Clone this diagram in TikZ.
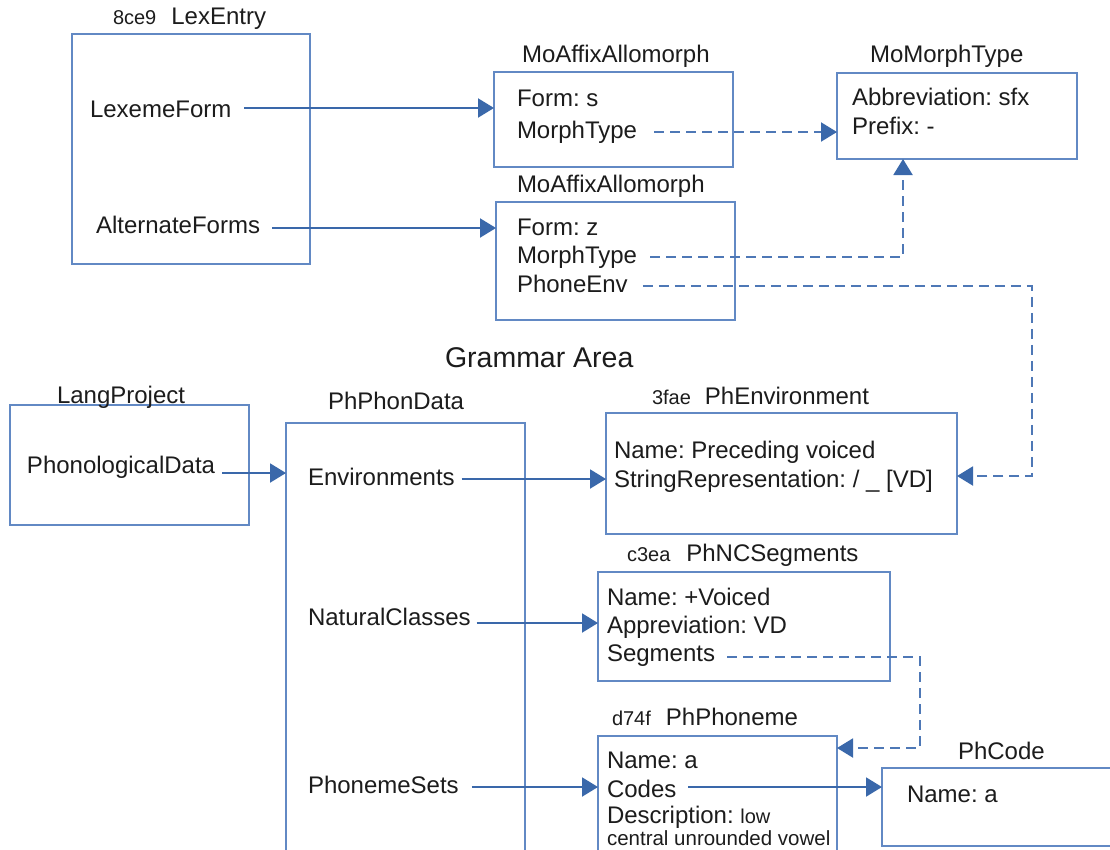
\documentclass[tikz,border=0pt]{standalone}
\usepackage{fontspec}
\setmainfont{Liberation Sans}
\usetikzlibrary{arrows.meta}

\definecolor{boxblue}{RGB}{98,137,196}
\definecolor{arrowblue}{RGB}{58,104,170}
\definecolor{dashblue}{RGB}{78,120,182}
\definecolor{ink}{RGB}{28,28,28}

\newcommand{\smallid}[1]{{\fontsize{20}{24}\selectfont #1}}

\tikzset{
  lbl/.style={anchor=base west, inner sep=0pt, outer sep=0pt, text=ink,
              font=\fontsize{24}{28}\selectfont\frenchspacing},
  smalllbl/.style={lbl, font=\fontsize{20.5}{24}\selectfont\frenchspacing},
  bigttl/.style={lbl, font=\fontsize{28.5}{32}\selectfont\frenchspacing},
  objbox/.style={draw=boxblue, line width=2pt, rectangle, anchor=north west,
                 inner sep=0pt, outer sep=0pt},
  link/.style={draw=arrowblue, line width=2pt,
               -{Triangle[length=16pt,width=19pt]}},
  reflink/.style={draw=dashblue, line width=2pt, dash pattern=on 10pt off 6pt,
                  -{Triangle[length=16pt,width=19pt,color=arrowblue,fill=arrowblue]}},
}

\begin{document}
\frenchspacing
\begin{tikzpicture}[x=1pt,y=-1pt]
\useasboundingbox (0,0) rectangle (1110,849);
\fill[white] (0,0) rectangle (1110,849);

% ---------- object boxes ----------
\node[objbox, minimum width=238pt, minimum height=230pt] (lex)  at (72,34)   {};
\node[objbox, minimum width=239pt, minimum height=95pt]  (ma1)  at (494,72)  {};
\node[objbox, minimum width=239pt, minimum height=118pt] (ma2)  at (496,202) {};
\node[objbox, minimum width=240pt, minimum height=86pt]  (mt)   at (837,73)  {};
\node[objbox, minimum width=239pt, minimum height=120pt] (lp)   at (10,405)  {};
\node[objbox, minimum width=239pt, minimum height=470pt] (ppd)  at (286,423) {};
\node[objbox, minimum width=351pt, minimum height=121pt] (env)  at (606,413) {};
\node[objbox, minimum width=292pt, minimum height=109pt] (nc)   at (598,572) {};
\node[objbox, minimum width=239pt, minimum height=160pt] (phon) at (598,736) {};
\node[objbox, minimum width=260pt, minimum height=78pt]  (code) at (882,768) {};

% ---------- titles ----------
\node[lbl] (lexT)  at (113,24)  {\smallid{8ce9}\hspace{15pt}LexEntry};
\node[lbl] (ma1T)  at (522,62)  {MoAffixAllomorph};
\node[lbl] (ma2T)  at (517,192) {MoAffixAllomorph};
\node[lbl] (mtT)   at (870,62)  {MoMorphType};
\node[bigttl] (gram) at (445,367) {Grammar Area};
\node[lbl] (lpT)   at (57,403)  {LangProject};
\node[lbl] (ppdT)  at (328,409) {PhPhonData};
\node[lbl] (envT)  at (652,404) {\smallid{3fae}\hspace{14pt}PhEnvironment};
\node[lbl] (ncT)   at (627,561) {\smallid{c3ea}\hspace{16pt}PhNCSegments};
\node[lbl] (phT)   at (612,725) {\smallid{d74f}\hspace{15pt}PhPhoneme};
\node[lbl] (codeT) at (958,759) {PhCode};

% ---------- fields ----------
\node[lbl] (lexform)  at (90,117)  {LexemeForm};
\node[lbl] (altforms) at (96,233)  {AlternateForms};

\node[lbl] (fs)   at (517,106) {Form: s};
\node[lbl] (mt1)  at (517,138) {MorphType};
\node[lbl] (fz)   at (517,235) {Form: z};
\node[lbl] (mt2)  at (517,263) {MorphType};
\node[lbl] (penv) at (517,292) {PhoneEnv};

\node[lbl] (abbr) at (852,105) {Abbreviation: sfx};
\node[lbl] (pref) at (852,134) {Prefix: -};

\node[lbl] (phdata) at (27,473)  {PhonologicalData};
\node[lbl] (envs)   at (308,485) {Environments};
\node[lbl] (ncl)    at (308,625) {NaturalClasses};
\node[lbl] (phsets) at (308,793) {PhonemeSets};

\node[lbl] (pname) at (614,458) {Name: Preceding voiced};
\node[lbl] (srep)  at (614,487) {StringRepresentation: / \_ [VD]};

\node[lbl] (ncname) at (607,605) {Name: +Voiced};
\node[lbl] (ncabbr) at (607,633) {Appreviation: VD};
\node[lbl] (segs)   at (607,661) {Segments};

\node[lbl] (phname) at (607,768) {Name: a};
\node[lbl] (codes)  at (607,797) {Codes};
\node[lbl] (desc)   at (607,823) {Description: \smallid{low}};
\node[smalllbl] (desc2) at (607,845) {central unrounded vowel};

\node[lbl] (cname) at (907,802) {Name: a};

% ---------- owning links ----------
\path ([xshift=13pt,yshift=9pt]lexform.base east) coordinate (s1);
\draw[link] (s1) -- (s1 -| ma1.west);

\path ([xshift=12pt,yshift=5pt]altforms.base east) coordinate (s2);
\draw[link] (s2) -- (s2 -| ma2.west);

\path ([xshift=7pt,yshift=0pt]phdata.base east) coordinate (s3);
\draw[link] (s3) -- (s3 -| ppd.west);

\path ([xshift=7pt,yshift=6pt]envs.base east) coordinate (s4);
\draw[link] (s4) -- (s4 -| env.west);

\path ([xshift=6pt,yshift=2pt]ncl.base east) coordinate (s5);
\draw[link] (s5) -- (s5 -| nc.west);

\path ([xshift=13pt,yshift=6pt]phsets.base east) coordinate (s6);
\draw[link] (s6) -- (s6 -| phon.west);

\path ([xshift=12pt,yshift=10pt]codes.base east) coordinate (s7);
\draw[link] (s7) -- (s7 -| code.west);

% ---------- reference links ----------
\path ([xshift=17pt,yshift=6pt]mt1.base east) coordinate (r1);
\draw[reflink] (r1) -- (r1 -| mt.west);

\path ([xshift=13pt,yshift=6pt]mt2.base east) coordinate (r2);
\path ([xshift=-54pt]mt.south) coordinate (r2up);
\draw[reflink] (r2) -| (r2up);

\path ([xshift=15pt,yshift=6pt]penv.base east) coordinate (r3);
\path ([xshift=75pt,yshift=-2.5pt]env.east) coordinate (r3down);
\path ([yshift=-2.5pt]env.east) coordinate (r3end);
\draw[reflink] (r3) -| (r3down) -- (r3end);

\path ([xshift=12pt,yshift=4pt]segs.base east) coordinate (r4);
\path ([xshift=83pt,yshift=-12pt]phon.north east) coordinate (r4down);
\draw[reflink] (r4) -| (r4down) -- (r4down -| phon.east);
\end{tikzpicture}
\end{document}
